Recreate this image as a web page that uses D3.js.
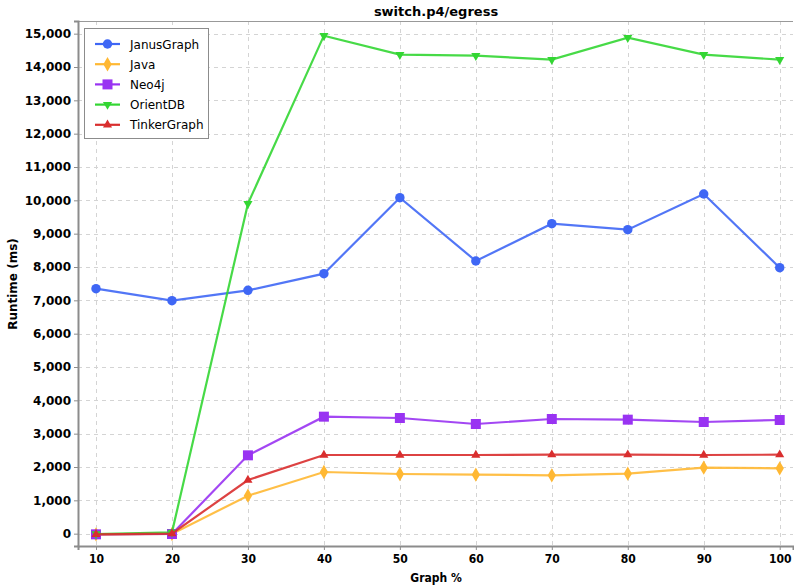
<!DOCTYPE html>
<html>
<head>
<meta charset="utf-8">
<script src="https://cdn.jsdelivr.net/npm/d3@7"></script>
<style>
  body { margin: 0; background: #fff; }
  svg { font-family: "DejaVu Sans", sans-serif; }
</style>
</head>
<body>
<svg id="chart" width="794" height="587"></svg>
<script>
const graphPct = [10, 20, 30, 40, 50, 60, 70, 80, 90, 100];
const seriesNames = ['JanusGraph', 'Java', 'Neo4j', 'OrientDB', 'TinkerGraph'];
const janusGraph = [7350, 6990, 7300, 7800, 10080, 8180, 9300, 9120, 10190, 7980];
const java = [-20, -10, 1140, 1850, 1790, 1770, 1750, 1800, 1980, 1960];
const neo4j = [-20, -10, 2350, 3510, 3470, 3290, 3440, 3420, 3350, 3410];
const orientDB = [-10, 40, 9900, 14940, 14370, 14340, 14220, 14880, 14370, 14220];
const tinkerGraph = [-20, 0, 1610, 2360, 2360, 2360, 2370, 2370, 2360, 2370];
const yTicks = d3.range(0, 15001, 1000);

const colors = ['#3f67f5', '#ffb833', '#9933f2', '#33d633', '#d92e2e'];
const shapes = [d3.symbolCircle, d3.symbolDiamond, d3.symbolSquare, 'down', d3.symbolTriangle];
const values = [janusGraph, java, neo4j, orientDB, tinkerGraph];

const svg = d3.select('#chart');
const plot = {left: 78, right: 793, top: 21, bottom: 546};

const x = d3.scaleLinear().domain([7.63, 101.75]).range([plot.left, plot.right]);
const y = d3.scaleLinear().domain([-370, 15380]).range([plot.bottom, plot.top]);

// grid
const grid = svg.append('g').attr('stroke', '#d4d4d4').attr('stroke-dasharray', '4,4').attr('stroke-width', 1);
grid.selectAll('line.gy').data(yTicks).enter().append('line')
  .attr('x1', plot.left).attr('x2', plot.right)
  .attr('y1', d => Math.round(y(d)) + 0.5).attr('y2', d => Math.round(y(d)) + 0.5);
grid.selectAll('line.gx').data(graphPct).enter().append('line')
  .attr('y1', plot.top).attr('y2', plot.bottom)
  .attr('x1', d => Math.round(x(d)) + 0.5).attr('x2', d => Math.round(x(d)) + 0.5);

// top border
svg.append('line').attr('x1', plot.left).attr('x2', plot.right).attr('y1', plot.top + 0.5).attr('y2', plot.top + 0.5)
  .attr('stroke', '#999');

// axes
const yAxis = svg.append('g').attr('transform', `translate(${plot.left},0)`)
  .call(d3.axisLeft(y).tickValues(yTicks).tickFormat(d3.format(',')).tickSize(4).tickPadding(3));
const xAxis = svg.append('g').attr('transform', `translate(0,${plot.bottom})`)
  .call(d3.axisBottom(x).tickValues(graphPct).tickSize(4).tickPadding(4));
[yAxis, xAxis].forEach(a => {
  a.select('.domain').attr('stroke', '#8c8c8c').attr('stroke-width', 2);
  a.selectAll('.tick line').attr('stroke', '#8c8c8c');
  a.selectAll('text').attr('font-size', 12).attr('font-weight', 'bold').attr('fill', '#000')
    .attr('font-family', '"DejaVu Sans", sans-serif');
});
xAxis.selectAll('text').attr('font-family', '"DejaVu Sans Condensed", "DejaVu Sans", sans-serif');

// series
const line = d3.line().x((d, i) => x(graphPct[i])).y(d => y(d));
function marker(sel, s, c) {
  if (s === 'down') {
    sel.attr('d', d3.symbol().type(d3.symbolTriangle).size(36)).attr('transform', function () {
      return d3.select(this).attr('transform') + ' rotate(180)';
    });
  } else {
    const size = s === d3.symbolSquare ? 100 : s === d3.symbolDiamond ? 60 : s === d3.symbolTriangle ? 36 : 70;
    sel.attr('d', d3.symbol().type(s).size(size));
  }
  sel.attr('fill', c);
}

values.forEach((vals, k) => {
  const g = svg.append('g');
  g.append('path').datum(vals).attr('d', line)
    .attr('fill', 'none').attr('stroke', colors[k]).attr('stroke-width', 2.2).attr('stroke-opacity', 0.9);
  g.selectAll('path.m').data(vals).enter().append('path')
    .attr('transform', (d, i) => `translate(${x(graphPct[i])},${y(d)})`)
    .call(marker, shapes[k], colors[k]);
});

// legend
const lg = svg.append('g');
lg.append('rect').attr('x', 84.5).attr('y', 28.5).attr('width', 124).attr('height', 110)
  .attr('fill', '#fff').attr('stroke', '#8c8c8c');
seriesNames.forEach((name, k) => {
  const ly = 44 + k * 20.2;
  lg.append('line').attr('x1', 95).attr('x2', 120).attr('y1', ly).attr('y2', ly)
    .attr('stroke', colors[k]).attr('stroke-width', 2.2);
  lg.append('path').attr('transform', `translate(107.5,${ly})`).call(marker, shapes[k], colors[k]);
  lg.append('text').attr('x', 130).attr('y', ly + 4.5).attr('font-size', 12).text(name);
});

// title and labels
svg.append('text').attr('x', 436).attr('y', 16).attr('text-anchor', 'middle')
  .attr('font-size', 13).attr('font-weight', 'bold').text('switch.p4/egress');
svg.append('text').attr('x', 436).attr('y', 582).attr('text-anchor', 'middle')
  .attr('font-family', '"DejaVu Sans Condensed", "DejaVu Sans", sans-serif')
  .attr('font-size', 12).attr('font-weight', 'bold').text('Graph %');
svg.append('text').attr('transform', 'translate(17,284) rotate(-90)').attr('text-anchor', 'middle')
  .attr('font-size', 12).attr('font-weight', 'bold').text('Runtime (ms)');
</script>
</body>
</html>
